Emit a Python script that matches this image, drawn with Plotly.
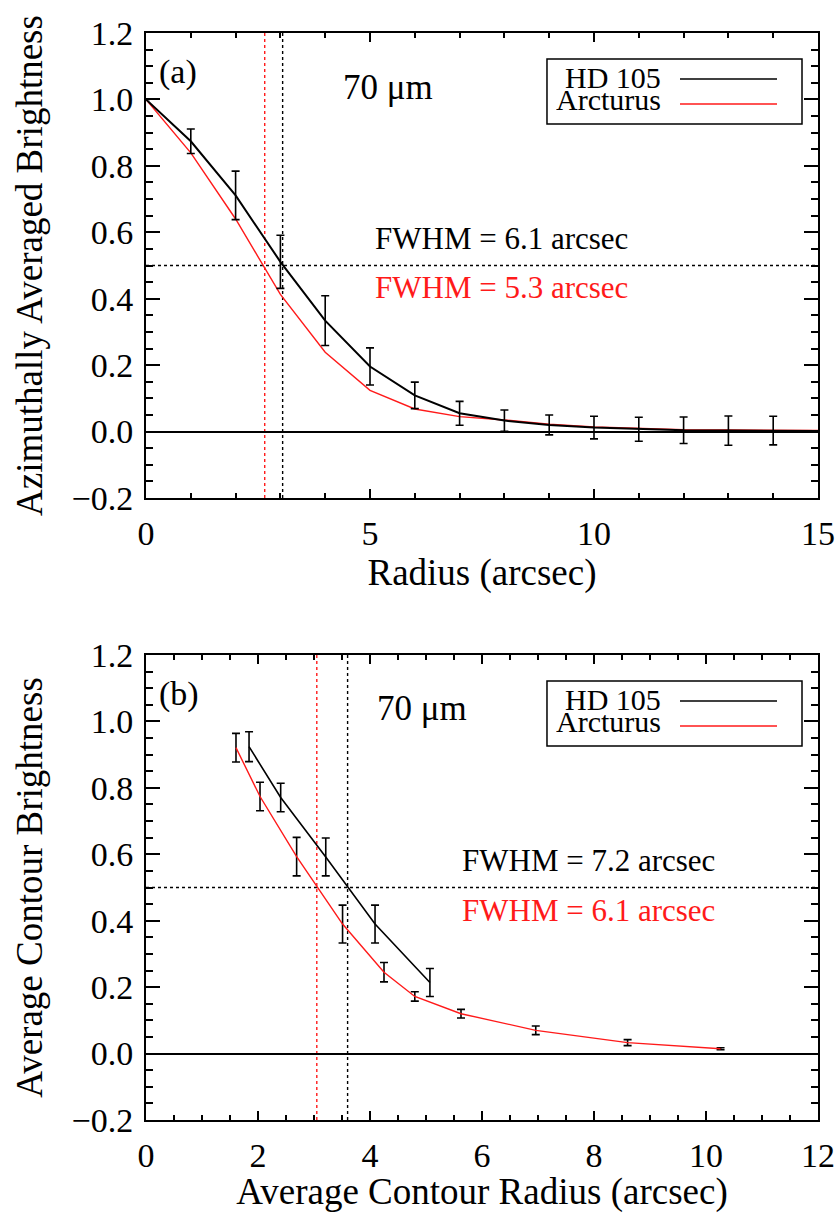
import plotly.graph_objects as go

# ---------------- data ----------------
# Panel (a): azimuthally averaged brightness vs radius
radius_a = [0, 1, 2, 3, 4, 5, 6, 7, 8, 9, 10, 11, 12, 13, 14, 15]
hd105_a = [1.0, 0.874, 0.711, 0.511, 0.334, 0.196, 0.109, 0.055, 0.033, 0.020, 0.012, 0.007, 0.004, 0.003, 0.003, 0.002]
hd105_a_err = [None, 0.037, 0.073, 0.080, 0.075, 0.056, 0.040, 0.036, 0.032, 0.030, 0.034, 0.036, 0.040, 0.044, 0.043, None]
arcturus_a = [1.0, 0.839, 0.640, 0.413, 0.239, 0.124, 0.068, 0.045, 0.035, 0.022, 0.014, 0.009, 0.006, 0.005, 0.004, 0.003]

# Panel (b): average contour brightness vs average contour radius
hd105_b_x = [1.84, 2.405, 3.21, 4.09, 5.07]
hd105_b_y = [0.924, 0.771, 0.592, 0.390, 0.214]
hd105_b_err = [0.045, 0.043, 0.057, 0.057, 0.042]
arcturus_b_x = [1.607, 2.036, 2.69, 3.51, 4.25, 4.80, 5.625, 6.96, 8.60, 10.26]
arcturus_b_y = [0.921, 0.774, 0.593, 0.390, 0.245, 0.172, 0.120, 0.070, 0.033, 0.0145]
arcturus_b_err = [0.043, 0.043, 0.058, 0.057, 0.029, 0.014, 0.013, 0.013, 0.009, 0.003]

fwhm_a = {"HD 105": 6.1, "Arcturus": 5.3}
fwhm_b = {"HD 105": 7.2, "Arcturus": 6.1}
half_max = 0.5

xtick_a = [0, 5, 10, 15]
xtick_b = [0, 2, 4, 6, 8, 10, 12]
ytick = [-0.2, 0.0, 0.2, 0.4, 0.6, 0.8, 1.0, 1.2]
ytick_text = ["\u22120.2", "0.0", "0.2", "0.4", "0.6", "0.8", "1.0", "1.2"]

# ---------------- figure ----------------
FONT = "Liberation Serif"
BLACK = "black"
RED = "#ff1a1a"
W, H = 839, 1213

fig = go.Figure()

# Panel (a)
fig.add_trace(go.Scatter(x=radius_a, y=arcturus_a, mode="lines", name="Arcturus",
                         line=dict(color=RED, width=1.4), xaxis="x", yaxis="y", showlegend=False))
fig.add_trace(go.Scatter(x=radius_a, y=hd105_a, mode="lines", name="HD 105",
                         line=dict(color=BLACK, width=2),
                         error_y=dict(type="data", array=hd105_a_err, visible=True,
                                      color=BLACK, thickness=1.6, width=4),
                         xaxis="x", yaxis="y", showlegend=False))

# Panel (b)
fig.add_trace(go.Scatter(x=arcturus_b_x, y=arcturus_b_y, mode="lines", name="Arcturus",
                         line=dict(color=RED, width=1.4),
                         error_y=dict(type="data", array=arcturus_b_err, visible=True,
                                      color=BLACK, thickness=1.6, width=4),
                         xaxis="x2", yaxis="y2", showlegend=False))
fig.add_trace(go.Scatter(x=hd105_b_x, y=hd105_b_y, mode="lines", name="HD 105",
                         line=dict(color=BLACK, width=1.6),
                         error_y=dict(type="data", array=hd105_b_err, visible=True,
                                      color=BLACK, thickness=1.6, width=4),
                         xaxis="x2", yaxis="y2", showlegend=False))

# ---------------- axes ----------------
x_dom = [146 / W, 818 / W]
ya_dom = [(H - 498) / H, (H - 33) / H]
yb_dom = [(H - 1120) / H, (H - 655) / H]

common_y = dict(range=[-0.2, 1.2], tickvals=ytick, ticktext=ytick_text, automargin=False,
                ticks="inside", ticklen=14, tickwidth=1.5, tickcolor=BLACK,
                minor=dict(ticks="inside", ticklen=7, dtick=0.05, tickwidth=1.5, tickcolor=BLACK, showgrid=False),
                showline=True, linecolor=BLACK, linewidth=2, mirror="allticks",
                showgrid=False, zeroline=True, zerolinecolor=BLACK, zerolinewidth=1.8,
                tickfont=dict(family=FONT, size=34, color=BLACK),
                ticklabelstandoff=4)
common_x = dict(ticks="inside", ticklen=9, tickwidth=1.5, tickcolor=BLACK, automargin=False,
                showline=True, linecolor=BLACK, linewidth=2, mirror="allticks",
                showgrid=False, zeroline=False,
                tickfont=dict(family=FONT, size=34, color=BLACK),
                ticklabelstandoff=4)

fig.update_layout(
    template="none",
    width=W, height=H,
    margin=dict(l=0, r=0, t=0, b=0, pad=0),
    paper_bgcolor="white", plot_bgcolor="white",
    font=dict(family=FONT, color=BLACK),
    showlegend=False,
    xaxis=dict(domain=x_dom, range=[0, 15], tickvals=xtick_a, anchor="y",
               minor=dict(ticks="inside", ticklen=5, dtick=1, tickwidth=1.5, tickcolor=BLACK, showgrid=False),
               title=dict(text="Radius (arcsec)", font=dict(family=FONT, size=37), standoff=6),
               **common_x),
    yaxis=dict(domain=ya_dom, anchor="x",
               title=dict(text="Azimuthally Averaged Brightness", font=dict(family=FONT, size=37), standoff=18),
               **common_y),
    xaxis2=dict(domain=x_dom, range=[0, 12], tickvals=xtick_b, anchor="y2",
                minor=dict(ticks="inside", ticklen=5, dtick=0.5, tickwidth=1.5, tickcolor=BLACK, showgrid=False),
                title=dict(text="Average Contour Radius (arcsec)", font=dict(family=FONT, size=37), standoff=4),
                **common_x),
    yaxis2=dict(domain=yb_dom, anchor="x2",
                title=dict(text="Average Contour Brightness", font=dict(family=FONT, size=37), standoff=18),
                **common_y),
)

# ---------------- reference lines ----------------
panels = [("x", "y", fwhm_a), ("x2", "y2", fwhm_b)]
for xr, yr, fw in panels:
    # half-maximum level
    fig.add_shape(type="line", xref=f"{xr} domain", yref=yr, x0=0, x1=1, y0=half_max, y1=half_max,
                  line=dict(color=BLACK, width=1.4, dash="dot"), layer="below")
    # half widths
    fig.add_shape(type="line", xref=xr, yref=f"{yr} domain", x0=fw["Arcturus"] / 2, x1=fw["Arcturus"] / 2,
                  y0=0, y1=1, line=dict(color=RED, width=1.4, dash="dot"), layer="below")
    fig.add_shape(type="line", xref=xr, yref=f"{yr} domain", x0=fw["HD 105"] / 2, x1=fw["HD 105"] / 2,
                  y0=0, y1=1, line=dict(color=BLACK, width=1.4, dash="dot"), layer="below")

# ---------------- annotations ----------------
def ann(xr, yr, x, y, text, size, color=BLACK, xanchor="left", height=None):
    kw = dict(height=height) if height else {}
    fig.add_annotation(xref=f"{xr} domain", yref=f"{yr} domain", x=x, y=y, text=text,
                       showarrow=False, xanchor=xanchor, yanchor="middle",
                       font=dict(family=FONT, size=size, color=color), **kw)

# panel labels and wavelength
ann("x", "y", 0.016, 0.916, "(a)", 34)
ann("x2", "y2", 0.016, 0.916, "(b)", 34)
ann("x", "y", 0.3594, 0.882, "70 \u03bcm", 35, xanchor="center")
ann("x2", "y2", 0.41, 0.886, "70 \u03bcm", 35, xanchor="center")

# FWHM texts
ann("x", "y", 0.3378, 0.557, f"FWHM = {fwhm_a['HD 105']:.1f} arcsec", 31)
ann("x", "y", 0.3378, 0.452, f"FWHM = {fwhm_a['Arcturus']:.1f} arcsec", 31, color=RED)
ann("x2", "y2", 0.4673, 0.557, f"FWHM = {fwhm_b['HD 105']:.1f} arcsec", 31)
ann("x2", "y2", 0.4673, 0.450, f"FWHM = {fwhm_b['Arcturus']:.1f} arcsec", 31, color=RED)

# legends (text then line sample, boxed)
for xr, yr in [("x", "y"), ("x2", "y2")]:
    fig.add_shape(type="rect", xref=f"{xr} domain", yref=f"{yr} domain",
                  x0=0.5967, x1=0.9762, y0=0.8043, y1=0.9441,
                  line=dict(color=BLACK, width=1.5), fillcolor="white", layer="above")
    for name, color, yy, dy in [("HD 105", BLACK, 0.9011, 0.005), ("Arcturus", RED, 0.8473, 0.010)]:
        fig.add_shape(type="line", xref=f"{xr} domain", yref=f"{yr} domain",
                      x0=0.7946, x1=0.9390, y0=yy, y1=yy, line=dict(color=color, width=1.6), layer="above")
        ann(xr, yr, 0.7693, yy + dy, name, 30, xanchor="right", height=24)

fig.write_html("out.html")
